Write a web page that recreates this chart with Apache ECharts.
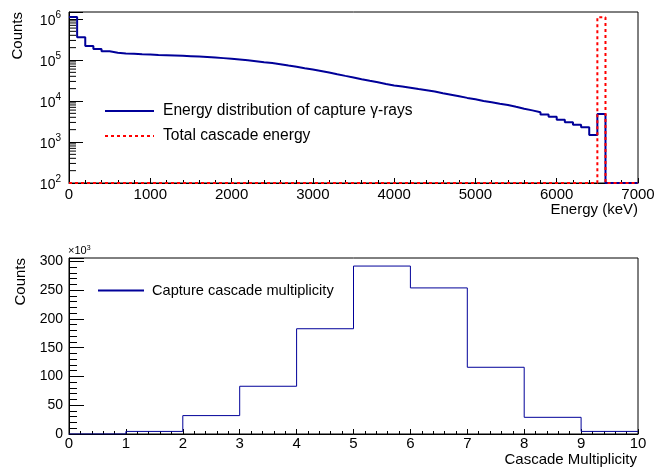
<!DOCTYPE html>
<html>
<head>
<meta charset="utf-8">
<script src="https://cdn.jsdelivr.net/npm/echarts@6/dist/echarts.min.js"></script>
<style>
html,body{margin:0;padding:0;background:#fff;}
#chart{width:654px;height:468px;}
</style>
</head>
<body>
<div id="chart"></div>
<script>
var FONT='Liberation Sans';
var NAME_GAMMA='Energy distribution of capture γ-rays';
var NAME_TOTAL='Total cascade energy';
var NAME_MULT='Capture cascade multiplicity';

// energy histogram, 100 keV bins from 0 to 7000 keV
var energyBinWidth=100;
var gammaCounts=[
    1.12e6,3.6e5,2.2e5,1.85e5,1.63e5,1.5e5,1.44e5,1.41e5,1.38e5,1.36e5,
    1.33e5,1.31e5,1.29e5,1.27e5,1.24e5,1.21e5,1.18e5,1.15e5,1.11e5,1.07e5,
    1.03e5,9.8e4,9.3e4,8.8e4,8.4e4,7.9e4,7.3e4,6.8e4,6.3e4,5.85e4,
    5.4e4,4.95e4,4.5e4,4.1e4,3.75e4,3.4e4,3.1e4,2.85e4,2.6e4,2.4e4,
    2.25e4,2.1e4,1.95e4,1.82e4,1.7e4,1.55e4,1.42e4,1.3e4,1.19e4,1.1e4,
    1.0e4,9.3e3,8.6e3,8.0e3,7.2e3,6.5e3,5.9e3,5.3e3,4.7e3,4.1e3,
    3.5e3,3.05e3,2.65e3,2.3e3,1.48e3,4.8e3,0,0,0,0
];
var totalCounts=[];
for(var i=0;i<70;i++) totalCounts.push(0);
totalCounts[65]=1.1e6;

// multiplicity histogram, bins 0..10
var multCounts=[0,4500,32000,83000,183000,292000,254000,116000,29000,4500];

var logMin=100, logMax=1.48e6;
var logMinorTicks=[];
[100,1000,10000,100000].forEach(function (dec) {
    for(var k=2;k<=9;k++) logMinorTicks.push([0,k*dec]);
});

// turn bin contents into step points
function histPoints(counts,width,floor) {
    var pts=[];
    counts.forEach(function (c,i) {
        pts.push([i*width,Math.max(c,floor)]);
    });
    pts.push([counts.length*width,Math.max(counts[counts.length-1],floor)]);
    return pts;
}

var myChart=echarts.init(document.getElementById('chart'));

var option={
    animation:false,
    textStyle:{fontFamily:FONT},
    grid:[
        {left:69,top:12,width:569,height:171,show:true,borderColor:'#000',borderWidth:1,
            containLabel:false,outerBoundsMode:'none'},
        {left:69,top:258,width:569,height:176,show:true,borderColor:'#000',borderWidth:1,
            containLabel:false,outerBoundsMode:'none'}
    ],
    legend:[
        {
            data:[NAME_GAMMA,NAME_TOTAL],
            orient:'vertical',left:104,top:103,padding:0,
            itemWidth:49,itemHeight:14,itemGap:9,
            itemStyle:{opacity:0},
            textStyle:{fontSize:15.6,color:'#000',fontFamily:FONT,padding:[0,0,0,4]}
        },
        {
            data:[NAME_MULT],
            orient:'vertical',left:97,top:283,padding:0,
            itemWidth:46,itemHeight:14,
            itemStyle:{opacity:0},
            textStyle:{fontSize:14.6,color:'#000',fontFamily:FONT,padding:[8,0,0,3]}
        }
    ],
    xAxis:[
        {
            type:'value',gridIndex:0,min:0,max:7000,interval:1000,
            axisLine:{lineStyle:{color:'#000'}},
            axisTick:{inside:true,length:5,lineStyle:{color:'#000'}},
            minorTick:{show:true,splitNumber:5,length:3,lineStyle:{color:'#000'}},
            splitLine:{show:false},
            axisLabel:{fontSize:15,color:'#000',margin:4,fontFamily:FONT,
                formatter:function (v) { return String(v); }}
        },
        {
            type:'value',gridIndex:1,min:0,max:10,interval:1,
            axisLine:{lineStyle:{color:'#000'}},
            axisTick:{inside:true,length:5,lineStyle:{color:'#000'}},
            minorTick:{show:true,splitNumber:5,length:3,lineStyle:{color:'#000'}},
            splitLine:{show:false},
            axisLabel:{fontSize:15,color:'#000',margin:2,fontFamily:FONT,
                formatter:function (v) { return String(v); }}
        }
    ],
    yAxis:[
        {
            type:'log',gridIndex:0,min:logMin,max:logMax,logBase:10,
            axisLine:{show:true,lineStyle:{color:'#000'}},
            axisTick:{inside:true,length:14,lineStyle:{color:'#000'}},
            splitLine:{show:false},
            axisLabel:{
                margin:8,color:'#000',fontFamily:FONT,
                formatter:function (v) {
                    var e=Math.log10(v);
                    if(Math.abs(e-Math.round(e))>1e-6) return '';
                    return '{b|10}{s|'+Math.round(e)+'}';
                },
                rich:{
                    b:{fontSize:14,color:'#000',fontFamily:FONT,verticalAlign:'bottom',lineHeight:18},
                    s:{fontSize:10,color:'#000',fontFamily:FONT,verticalAlign:'top',lineHeight:18}
                }
            }
        },
        {
            type:'value',gridIndex:1,min:0,max:306000,interval:50000,
            axisLine:{show:true,lineStyle:{color:'#000'}},
            axisTick:{inside:true,length:15,lineStyle:{color:'#000'}},
            minorTick:{show:true,splitNumber:5,length:8,lineStyle:{color:'#000'}},
            splitLine:{show:false},
            axisLabel:{
                fontSize:14,color:'#000',margin:6,fontFamily:FONT,
                formatter:function (v) {
                    return v%50000===0 ? String(v/1000) : '';
                }
            }
        }
    ],
    graphic:[
        {type:'text',x:18,y:12,rotation:Math.PI/2,
            style:{text:'Counts',font:'15px '+FONT,fill:'#000',align:'right',verticalAlign:'middle'}},
        {type:'text',x:21,y:258,rotation:Math.PI/2,
            style:{text:'Counts',font:'15px '+FONT,fill:'#000',align:'right',verticalAlign:'middle'}},
        {type:'text',x:638,y:210,
            style:{text:'Energy (keV)',font:'15px '+FONT,fill:'#000',align:'right',verticalAlign:'middle'}},
        {type:'text',x:637,y:460,
            style:{text:'Cascade Multiplicity',font:'15px '+FONT,fill:'#000',align:'right',verticalAlign:'middle'}},
        {type:'text',x:68,y:245,
            style:{text:'×10{s|3}',font:'11px '+FONT,fill:'#000',
                rich:{s:{fontSize:7,verticalAlign:'top',fontFamily:FONT}}}}
    ],
    series:[
        {
            name:NAME_GAMMA,type:'line',xAxisIndex:0,yAxisIndex:0,
            step:'end',symbol:'none',clip:false,z:10,
            lineStyle:{color:'#000099',width:2},
            itemStyle:{color:'#000099'},
            data:histPoints(gammaCounts,energyBinWidth,logMin)
        },
        {
            name:NAME_TOTAL,type:'line',xAxisIndex:0,yAxisIndex:0,
            step:'end',symbol:'none',clip:false,z:11,
            lineStyle:{color:'#ff0000',width:2,type:[3,3]},
            itemStyle:{color:'#ff0000'},
            data:histPoints(totalCounts,energyBinWidth,logMin)
        },
        { // log minor ticks like ROOT (2..9 x 10^n)
            type:'custom',xAxisIndex:0,yAxisIndex:0,silent:true,clip:false,
            renderItem:function (params,api) {
                var p=api.coord([api.value(0),api.value(1)]);
                return {type:'line',shape:{x1:p[0],y1:p[1],x2:p[0]+7,y2:p[1]},
                    style:{stroke:'#000',lineWidth:1}};
            },
            encode:{x:0,y:1},
            data:logMinorTicks
        },
        {
            name:NAME_MULT,type:'line',xAxisIndex:1,yAxisIndex:1,
            step:'end',symbol:'none',
            lineStyle:{color:'#000099',width:1},
            itemStyle:{color:'#000099'},
            data:histPoints(multCounts,1,0)
        }
    ]
};
myChart.setOption(option);
</script>
</body>
</html>
